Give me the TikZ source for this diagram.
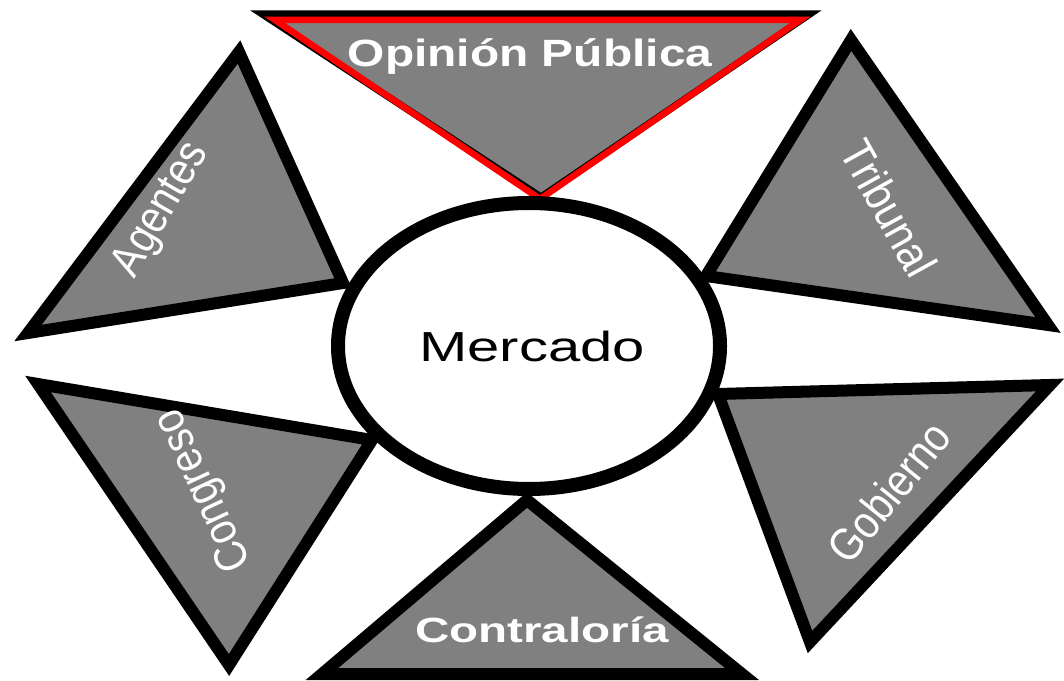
\documentclass[tikz,border=0pt]{standalone}
\usepackage{fontspec}
\setmainfont{Liberation Sans}
\usepackage{graphicx}
\usetikzlibrary{shapes.geometric}
\definecolor{trigray}{RGB}{128,128,128}
\definecolor{optred}{RGB}{255,0,0}
\tikzset{
  tri/.style={draw=black, line width=12pt, fill=trigray, line join=miter},
  sidelabel/.style={text=white, inner sep=0pt, font=\fontsize{46}{46}\selectfont},
  boldlabel/.style={text=white, inner sep=0pt, anchor=base},
}
\begin{document}
\begin{tikzpicture}[x=1pt,y=1pt]
\clip (0,0) rectangle (1064,680);
\fill[white] (0,0) rectangle (1064,680);
% Opinion Publica (top)
\draw[draw=black, line width=7pt, fill=trigray, line join=miter] (262,666) -- (810,666) -- (541,483) -- cycle;
\draw[draw=optred, line width=6.5pt, line join=miter] (275,660) -- (800,660) -- (540,481) -- cycle;
% Agentes
\draw[tri] (239,628) -- (28,347) -- (343,397) -- cycle;
% Tribunal
\draw[tri] (851,640) -- (706,404) -- (1048,355) -- cycle;
% Congreso
\draw[tri] (38,296) -- (372,240) -- (229,15) -- cycle;
% Contraloria
\draw[tri] (527,180) -- (322,6) -- (742,6) -- cycle;
% Gobierno
\draw[tri] (718,286) -- (1050,295) -- (810,38) -- cycle;
% Mercado
\node[ellipse, draw=black, line width=14pt, fill=white, minimum width=382pt, minimum height=286pt, inner sep=0pt] (mercado) at (529,334) {};
\node[anchor=base, inner sep=0pt, font=\fontsize{42}{42}\selectfont] (mercadotxt) at (532,318) {\scalebox{1.38}[1]{Mercado}};
% labels
\node[boldlabel, font=\fontsize{38}{38}\selectfont\bfseries] (opinion) at (530,613) {\scalebox{1.26}[1]{Opinión Pública}};
\node[boldlabel, font=\fontsize{35}{35}\selectfont\bfseries] (contraloria) at (542,38) {\scalebox{1.36}[1]{Contraloría}};
\node[sidelabel, rotate=60] (agentes) at (162,470) {\scalebox{0.87}[1]{Agentes}};
\node[sidelabel, rotate=-61] (tribunal) at (889,472) {\scalebox{0.9}[1]{Tribunal}};
\node[sidelabel, rotate=51] (gobierno) at (889,188) {\scalebox{0.87}[1]{Gobierno}};
\node[sidelabel, rotate=115] (congreso) at (205,190) {\scalebox{0.87}[1]{Congreso}};
\end{tikzpicture}
\end{document}
